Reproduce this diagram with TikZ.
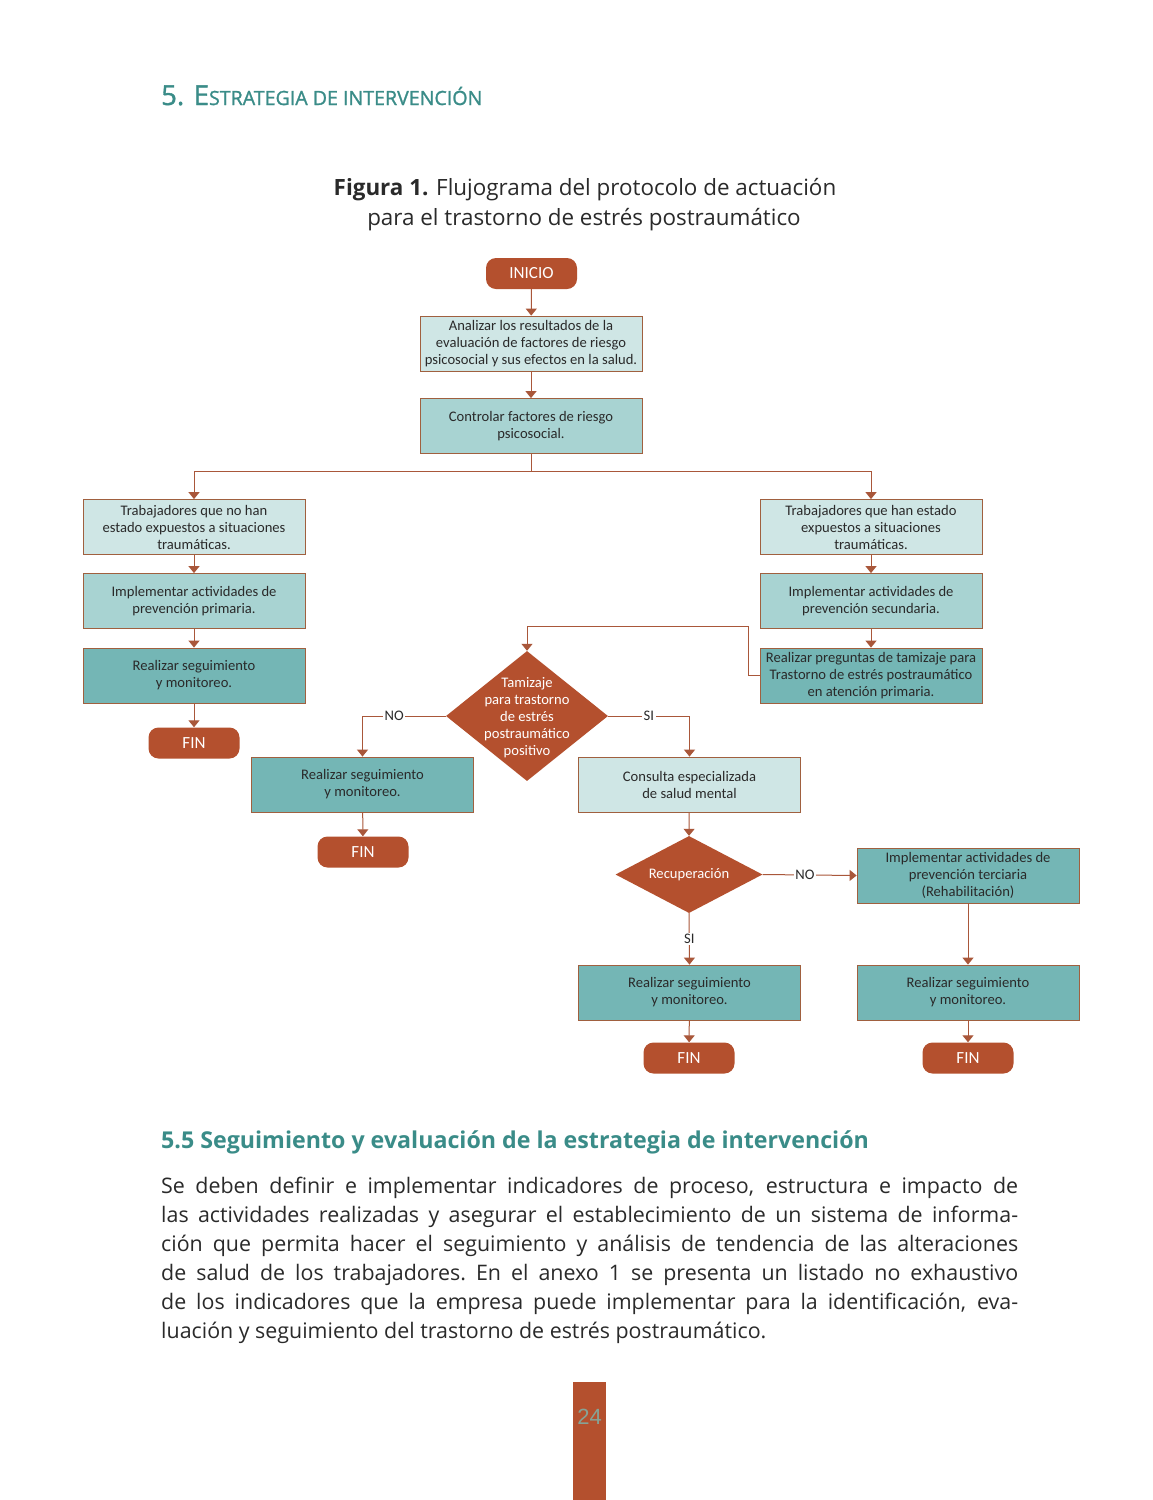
\documentclass[tikz,border=0pt]{standalone}
\usepackage{fontspec}
\setmainfont{Open Sans}
\newfontfamily\boxfont{Carlito}
\newfontfamily\numfont{Liberation Sans}
\newfontfamily\headfont[FakeBold=1.2]{Open Sans}
\usetikzlibrary{shapes.geometric,arrows.meta}
\definecolor{rust}{HTML}{B4502E}
\definecolor{rustline}{HTML}{A9573A}
\definecolor{boxline}{HTML}{A0603F}
\definecolor{tealh}{HTML}{3A8C88}
\definecolor{lightf}{HTML}{CFE6E5}
\definecolor{medf}{HTML}{A8D3D2}
\definecolor{darkf}{HTML}{74B6B5}
\definecolor{txt}{HTML}{2A2A2A}
\definecolor{pnum}{HTML}{86A396}
\begin{document}
\begin{tikzpicture}[x=1pt,y=-1pt,
  pbox/.style={draw=boxline, line width=0.8pt, inner sep=0pt, minimum width=222pt, minimum height=55pt, align=center, text=txt, font=\boxfont\fontsize{14.6}{17}\selectfont},
  lightbox/.style={pbox, fill=lightf},
  medbox/.style={pbox, fill=medf},
  darkbox/.style={pbox, fill=darkf},
  term/.style={rounded corners=10pt, fill=rust, inner sep=0pt, minimum width=91pt, minimum height=31pt, text=white, font=\boxfont\fontsize{17}{17}\selectfont},
  dia/.style={diamond, fill=rust, inner sep=0pt},
  diatext/.style={align=center, text=white, font=\boxfont\fontsize{14.6}{17}\selectfont},
  arr/.style={draw=rustline, line width=1pt, -{Triangle[width=11pt,length=7pt]}},
  ln/.style={draw=rustline, line width=1pt},
  lbl/.style={fill=white, inner sep=1.5pt, text=txt, font=\boxfont\fontsize{14.6}{14}\selectfont}
]
\useasboundingbox (0,0) rectangle (1152,1500);
\fill[white] (0,0) rectangle (1152,1500);

% heading
\node[anchor=base west, inner sep=0pt, text=tealh, font=\headfont] (h1) at (161,105)
  {{\fontsize{27.5}{27}\selectfont 5. E}{\fontsize{19.6}{20}\selectfont STRATEGIA DE INTERVENCIÓN}};

% figure title
\node[anchor=base, inner sep=0pt, text=txt, font=\fontsize{22.4}{22}\selectfont] (t1) at (585,195)
  {\textbf{Figura 1.} Flujograma del protocolo de actuación};
\node[anchor=base, inner sep=0pt, text=txt, font=\fontsize{22.4}{22}\selectfont] (t2) at (584,225)
  {para el trastorno de estrés postraumático};

% nodes
\node[term] (ini) at (531.5,273.5) {INICIO};
\node[lightbox] (ana) at (531,343.5) {Analizar los resultados de la\\evaluación de factores de riesgo\\psicosocial y sus efectos en la salud.};
\node[medbox] (con) at (531,426) {Controlar factores de riesgo\\psicosocial.};
\coordinate (split) at (531,471);

\node[lightbox] (l1) at (194,527) {Trabajadores que no han\\estado expuestos a situaciones\\traumáticas.};
\node[medbox] (l2) at (194,601) {Implementar actividades de\\prevención primaria.};
\node[darkbox] (l3) at (194,675.5) {Realizar seguimiento\\y monitoreo.};
\node[term] (lfin) at (194,743) {FIN};

\node[lightbox] (r1) at (871,527) {Trabajadores que han estado\\expuestos a situaciones\\traumáticas.};
\node[medbox] (r2) at (871,601) {Implementar actividades de\\prevención secundaria.};
\node[darkbox] (r3) at (871,675.5) {Realizar preguntas de tamizaje para\\Trastorno de estrés postraumático\\en atención primaria.};
\coordinate (k1) at (748,626);

\node[dia, minimum width=162pt, minimum height=130pt] (d1) at (527,716) {};
\node[diatext] (d1t) at ([yshift=-2pt]d1.center) {Tamizaje\\para trastorno\\de estrés\\postraumático\\positivo};

\node[darkbox] (m1) at (362.5,784.5) {Realizar seguimiento\\y monitoreo.};
\node[term] (mfin) at (363,852) {FIN};

\node[lightbox] (c1) at (689.5,784.5) {Consulta especializada\\de salud mental};
\node[dia, minimum width=147pt, minimum height=77pt] (d2) at (689,874.5) {};
\node[diatext] (d2t) at (d2.center) {Recuperación};

\node[darkbox] (ter) at (968,875.5) {Implementar actividades de\\prevención terciaria\\(Rehabilitación)};
\node[darkbox] (rr) at (968,992.5) {Realizar seguimiento\\y monitoreo.};
\node[term] (rfin) at (968,1058) {FIN};

\node[darkbox] (s1) at (689.5,992.5) {Realizar seguimiento\\y monitoreo.};
\node[term] (sfin) at (689,1058) {FIN};

% connectors
\draw[arr] (ini) -- (ana);
\draw[arr] (ana) -- (con);
\draw[ln] (con.south) -- (split);
\draw[arr] (split) -| (l1.north);
\draw[arr] (split) -| (r1.north);
\draw[arr] (l1) -- (l2);
\draw[arr] (l2) -- (l3);
\draw[arr] (l3) -- (lfin);
\draw[arr] (r1) -- (r2);
\draw[arr] (r2) -- (r3);
\draw[arr] (r3.west) -| (k1) -| (d1.north);
\draw[arr] (d1.west) -- node[lbl, pos=0.62] {NO} (d1.west -| m1.north) -- (m1.north);
\draw[arr] (d1.east) -- node[lbl] {SI} (d1.east -| c1.north) -- (c1.north);
\draw[arr] (m1) -- (mfin);
\draw[arr] (c1) -- (d2.north);
\draw[arr] (d2.east) -- node[lbl, pos=0.45] {NO} (ter.west);
\draw[arr] (d2.south) -- node[lbl] {SI} (s1.north);
\draw[arr] (s1) -- (sfin);
\draw[arr] (ter) -- (rr);
\draw[arr] (rr) -- (rfin);

% section 5.5
\node[anchor=base west, inner sep=0pt, text=tealh, font=\bfseries\fontsize{23.2}{24}\selectfont] (h2) at (161,1148)
  {5.5 Seguimiento y evaluación de la estrategia de intervención};

\begin{scope}[every node/.style={anchor=base west, inner sep=0pt, text=txt, font=\fontsize{21.4}{29}\selectfont}]
\node (b1) at (161,1193) {\makebox[857pt][s]{Se deben definir e implementar indicadores de proceso, estructura e impacto de}};
\node (b2) at (161,1222) {\makebox[857pt][s]{las actividades realizadas y asegurar el establecimiento de un sistema de informa-}};
\node (b3) at (161,1251) {\makebox[857pt][s]{ción que permita hacer el seguimiento y análisis de tendencia de las alteraciones}};
\node (b4) at (161,1280) {\makebox[857pt][s]{de salud de los trabajadores.\ En el anexo 1 se presenta un listado no exhaustivo}};
\node (b5) at (161,1309) {\makebox[857pt][s]{de los indicadores que la empresa puede implementar para la identificación, eva-}};
\node (b6) at (161,1338) {luación y seguimiento del trastorno de estrés postraumático.};
\end{scope}

% page number
\node[fill=rust, inner sep=0pt, minimum width=33pt, minimum height=118pt, anchor=north west] (pg) at (573,1382) {};
\node[text=pnum, font=\numfont\fontsize{22}{22}\selectfont, inner sep=0pt] (pgn) at (589.5,1417) {24};
\end{tikzpicture}
\end{document}
